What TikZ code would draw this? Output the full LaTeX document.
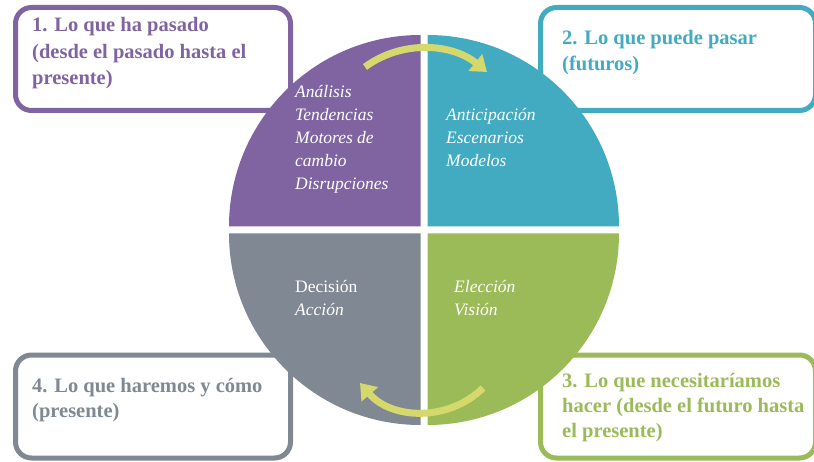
\documentclass[tikz,border=0pt]{standalone}
\usepackage{fontspec}
\setmainfont{Liberation Serif}
\usetikzlibrary{arrows.meta}
\definecolor{cpurple}{HTML}{8064A2}
\definecolor{cteal}{HTML}{42ABC1}
\definecolor{cgreen}{HTML}{9BBB59}
\definecolor{cgray}{HTML}{7F8893}
\definecolor{carrow}{HTML}{D5D86A}
\begin{document}
\begin{tikzpicture}[x=1pt,y=1pt,
  box/.style={draw=#1, line width=5pt, rounded corners=16pt, fill=white,
    minimum width=275pt, minimum height=103pt, inner sep=0pt},
  boxtext/.style={text=#1, anchor=base west, align=left, inner sep=0pt},
  qtext/.style={text=white, anchor=base west, align=left, inner sep=0pt,
    font=\fontsize{17.5}{23}\selectfont\itshape},
  cyc/.style={draw=carrow, line width=7pt, -{Triangle[width=21pt,length=15pt]}}]
\useasboundingbox (0,0) rectangle (814,461);
\fill[white] (0,0) rectangle (814,461);
% boxes
\node[box=cpurple] (b1) at (153,402) {};
\node[box=cteal]   (b2) at (678,402) {};
\node[box=cgreen]  (b3) at (678,54.5) {};
\node[box=cgray]   (b4) at (153,54.5) {};
% quadrants
\fill[cpurple] (420.5,234.5) -- ++(-191.5,0) arc[start angle=180,end angle=90,radius=191.5] -- cycle;
\fill[cteal]   (427.5,234.5) -- ++(0,191.5) arc[start angle=90,end angle=0,radius=191.5] -- cycle;
\fill[cgreen]  (427.5,227.5) -- ++(191.5,0) arc[start angle=0,end angle=-90,radius=191.5] -- cycle;
\fill[cgray]   (420.5,227.5) -- ++(0,-191.5) arc[start angle=-90,end angle=-180,radius=191.5] -- cycle;
% box texts (anchor = baseline of last line)
\node[boxtext=cpurple, font=\fontsize{20.5}{26.5}\selectfont\bfseries] (t1) at (32,376) {1. Lo que ha pasado\\(desde el pasado hasta el\\presente)};
\node[boxtext=cteal, font=\fontsize{20.5}{26}\selectfont\bfseries]   (t2) at (562,390) {2. Lo que puede pasar\\(futuros)};
\node[boxtext=cgreen, font=\fontsize{20.5}{25}\selectfont\bfseries]  (t3) at (562,23.7) {3. Lo que necesitaríamos\\hacer (desde el futuro hasta\\el presente)};
\node[boxtext=cgray, font=\fontsize{20.5}{24.5}\selectfont\bfseries]   (t4) at (32,44) {4. Lo que haremos y cómo\\(presente)};
% quadrant texts
\node[qtext] (q1) at (295,271) {Análisis\\Tendencias\\Motores de\\cambio\\Disrupciones};
\node[qtext] (q2) at (446,294) {Anticipación\\Escenarios\\Modelos};
\node[qtext] (q4) at (295,146) {\upshape Decisión\\Acción};
\node[qtext] (q3) at (454,146) {Elección\\Visión};
% arrows
\coordinate (a1) at (365,394);
\coordinate (a2) at (487,389);
\coordinate (c1) at (483,73);
\coordinate (c2) at (360,78);
\draw[cyc] (a1) .. controls (401.7,421.1) and (451.7,417.8) .. (a2);
\draw[cyc] (c1) .. controls (448.2,39.1) and (391.8,41.3) .. (c2);
\end{tikzpicture}
\end{document}
